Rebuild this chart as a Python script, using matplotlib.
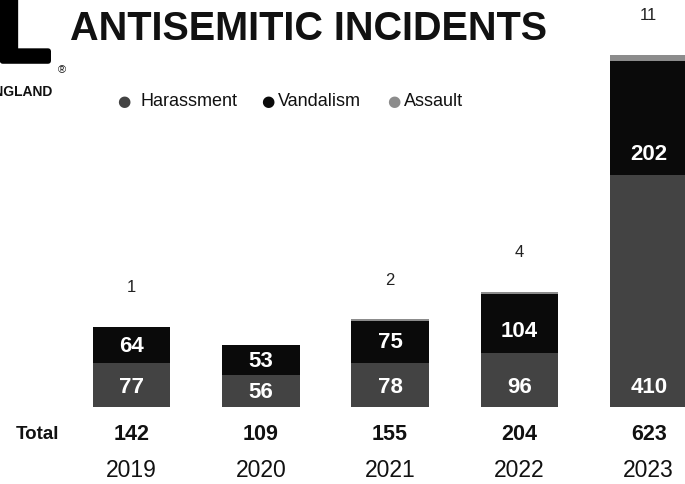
import matplotlib.pyplot as plt
import matplotlib.patheffects as pe

# Data
years = ["2019", "2020", "2021", "2022", "2023"]
harassment = [77, 56, 78, 96, 410]
vandalism = [64, 53, 75, 104, 202]
assault = [1, 0, 2, 4, 11]
totals = [142, 109, 155, 204, 623]

W, H = 685, 485
plt.rcParams["font.family"] = ["Liberation Sans", "DejaVu Sans"]

fig = plt.figure(figsize=(W / 100, H / 100), dpi=100)
ax = fig.add_axes([0, 0, 1, 1])
ax.axis("off")

# axis scale: bar spacing ~129px, baseline 77px from bottom
step = 129.3
x0 = -131.5 / step
ax.set_xlim(x0, x0 + W / step)
ppu = 0.565
base = 77
ax.set_ylim(-base / ppu, (H - base) / ppu)

c_har = "#434343"
c_van = "#0a0a0a"
c_ass = "#8c8c8c"
x = range(len(years))
bw = 0.6
stack2 = [h + v for h, v in zip(harassment, vandalism)]
ax.bar(x, harassment, bw, color=c_har)
ax.bar(x, vandalism, bw, bottom=harassment, color=c_van)
ax.bar(x, assault, bw, bottom=stack2, color=c_ass)

# labels inside segments: near segment bottom, centred when segment is short
lift = 20 / ppu
for i in x:
    ax.text(i, min(harassment[i] / 2, lift), str(harassment[i]), ha="center", va="center",
            color="white", fontsize=16, weight="bold")
    ax.text(i, harassment[i] + min(vandalism[i] / 2, lift + 4), str(vandalism[i]),
            ha="center", va="center", color="white", fontsize=16, weight="bold")
    if assault[i] > 0:
        ax.annotate(str(assault[i]), (i, stack2[i] + assault[i]), xytext=(0, 29),
                    textcoords="offset points", ha="center", va="center",
                    color="#222222", fontsize=12)

# total and year rows
tr = ax.get_xaxis_transform()
for i in x:
    ax.text(i, 1 - 435 / H, str(totals[i]), transform=tr, ha="center", va="center",
            fontsize=15.5, weight="bold", color="#111111")
    ax.text(i, 1 - 471 / H, years[i], transform=tr, ha="center", va="center",
            fontsize=16.5, color="#111111")

def ftext(px, py, s, **kw):
    return fig.text(px / W, 1 - py / H, s, **kw)

ftext(38, 435, "Total", ha="center", va="center", fontsize=13.5, weight="bold", color="#111111")

# title and logo
ftext(70, 40, "ANTISEMITIC INCIDENTS", ha="left", va="baseline", fontsize=28.5,
      weight="bold", color="#111111")
logo = ftext(51, 62, "ADL", ha="right", va="baseline", fontsize=64, weight="bold",
             color="#000000")
logo.set_path_effects([pe.withStroke(linewidth=4, foreground="black")])
ftext(52, 92, "NEW ENGLAND", ha="right", va="center", fontsize=10, weight="bold", color="#111111")
ftext(62, 70, "®", ha="center", va="center", fontsize=8, color="#111111")

# legend
legend_items = [("Harassment", c_har, 124, 141), ("Vandalism", c_van, 268, 278),
                ("Assault", c_ass, 394, 404)]
for name, col, dot_x, txt_x in legend_items:
    ftext(dot_x, 101, "●", ha="center", va="center", fontsize=11, color=col,
          family=["DejaVu Sans"])
    ftext(txt_x, 101, name, ha="left", va="center", fontsize=13, color="#111111")

fig.savefig("out.png", dpi=100)
